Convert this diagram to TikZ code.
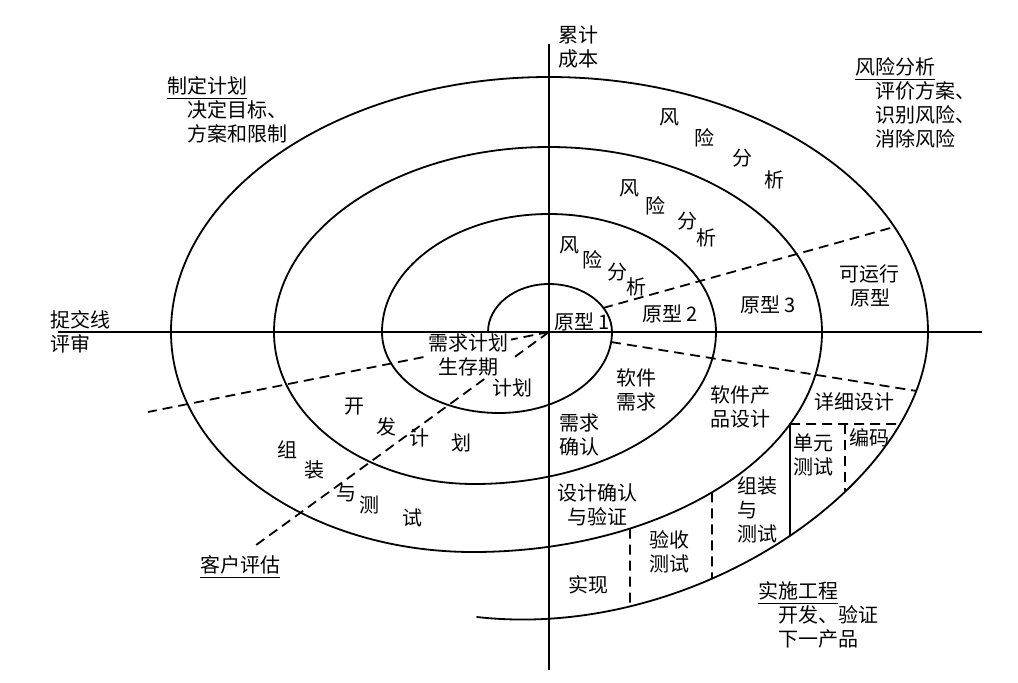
\documentclass[tikz,border=0pt]{standalone}
\usepackage{fontspec}
\setmainfont{Noto Sans CJK SC}
\usepackage{tikz}
\usetikzlibrary{intersections}

\begin{document}
\begin{tikzpicture}[x=0.5pt,y=0.5pt,
    spiral/.style={line width=0.9pt, line cap=round},
    cut/.style={line width=0.9pt, dash pattern=on 5pt off 3pt},
    lbl/.style={inner sep=0pt, font=\fontsize{10}{12}\selectfont, align=center},
    note/.style={lbl, anchor=west, align=left}]
    \useasboundingbox (-549,-350) rectangle (469,332);

    % dashed sector lines
    \draw[cut] (54,24) -- (345,105);
    \draw[cut] (0,0) -- (-401,-80);
    \draw[cut] (0,0) -- (-297,-216);

    % label lying over the dashes
    \node[lbl, fill=white, inner sep=1pt] (life) at (-80,-23) {需求计划\\生存期};

    % axes
    \draw[line width=0.9pt] (-491,0) -- (433,0);
    \draw[line width=0.9pt] (0,288) -- (0,-338);

    % spiral
    \draw[spiral] (-61,0)
        arc[start angle=180, end angle=90, x radius=61, y radius=48]
        arc[start angle=90, end angle=0, x radius=63, y radius=48]
        arc[start angle=0, end angle=-90, x radius=113, y radius=81]
        arc[start angle=-90, end angle=-180, x radius=117, y radius=81]
        arc[start angle=180, end angle=90, x radius=167, y radius=118]
        arc[start angle=90, end angle=0, x radius=167, y radius=118]
        arc[start angle=0, end angle=-90, x radius=242, y radius=152]
        arc[start angle=-90, end angle=-180, x radius=200, y radius=152]
        arc[start angle=180, end angle=90, x radius=275, y radius=185]
        arc[start angle=90, end angle=0, x radius=273, y radius=185]
        arc[start angle=0, end angle=-90, x radius=349, y radius=220]
        arc[start angle=-90, end angle=-180, x radius=302, y radius=220]
        arc[start angle=180, end angle=90, x radius=378, y radius=255]
        arc[start angle=90, end angle=0, x radius=379, y radius=255];
    \draw[spiral, name path=rim] (379,0) .. controls (379,-146) and (150,-310) .. (-72,-285);

    % lower right dashed line
    \path[name path=lowcut] (62,-10) -- (430,-69);
    \path[name intersections={of=rim and lowcut, by=e2}];
    \draw[cut] (62,-10) -- (e2);

    % boxes of the engineering quadrant
    \coordinate (m1) at (81,-196.5);
    \coordinate (m2) at (163,-160.3);
    \coordinate (m3) at (241,-92);
    \coordinate (m4) at (296,-92);
    \path[name path=v1] (81,-150) -- (81,-350);
    \path[name path=v2] (163,-150) -- (163,-350);
    \path[name path=v3] (241,-92) -- (241,-350);
    \path[name path=v4] (296,-92) -- (296,-350);
    \path[name path=h1] (241,-92) -- (440,-92);
    \path[name intersections={of=rim and v1, by=r1}];
    \path[name intersections={of=rim and v2, by=r2}];
    \path[name intersections={of=rim and v3, by=r3}];
    \path[name intersections={of=rim and v4, by=r4}];
    \path[name intersections={of=rim and h1, by=r5}];
    \draw[cut] (m1) -- (r1);
    \draw[cut] (m2) -- (r2);
    \draw[spiral] (m3) -- (r3);
    \draw[cut] (m3) -- (r5);
    \draw[cut] (m4) -- (r4);

    % quadrant notes
    \node[note] (plan) at (-382,222) {\underline{制定计划}\\\hspace*{1em}决定目标、\\\hspace*{1em}方案和限制};
    \node[note] (risk) at (306,229) {\underline{风险分析}\\\hspace*{1em}评价方案、\\\hspace*{1em}识别风险、\\\hspace*{1em}消除风险};
    \node[note] (build) at (209,-283) {\underline{实施工程}\\\hspace*{1em}开发、验证\\\hspace*{1em}下一产品};
    \node[note] (client) at (-349,-235) {\underline{客户评估}};
    \node[note] (submit) at (-499,0) {捉交线\\评审};
    \node[note] (cost) at (9,285) {累计\\成本};

    % risk analysis, three rounds
    \node[lbl] (riskA1) at (121,215) {风};
    \node[lbl] (riskA2) at (156,194) {险};
    \node[lbl] (riskA3) at (194,174) {分};
    \node[lbl] (riskA4) at (226,152) {析};
    \node[lbl] (riskB1) at (81,144) {风};
    \node[lbl] (riskB2) at (107,126) {险};
    \node[lbl] (riskB3) at (139,111) {分};
    \node[lbl] (riskB4) at (158,94) {析};
    \node[lbl] (riskC1) at (21,87) {风};
    \node[lbl] (riskC2) at (44,72) {险};
    \node[lbl] (riskC3) at (69,60) {分};
    \node[lbl] (riskC4) at (88,45) {析};

    % prototypes
    \node[lbl, anchor=west] (proto1) at (5,10) {原型 1};
    \node[lbl] (proto2) at (121,18) {原型 2};
    \node[lbl] (proto3) at (219,27) {原型 3};
    \node[lbl] (protoRun) at (321,46) {可运行\\原型};

    % lower right labels
    \node[lbl] (lifeplan) at (-36,-56) {计划};
    \node[lbl] (swreq) at (88,-58) {软件\\需求};
    \node[lbl] (reqok) at (31,-103) {需求\\确认};
    \node[lbl] (prod) at (192,-75) {软件产\\品设计};
    \node[lbl] (detail) at (305,-70) {详细设计};
    \node[lbl] (code) at (320,-106) {编码};
    \node[lbl] (unit) at (265,-123) {单元\\测试};
    \node[lbl, anchor=west, align=left] (integ) at (188,-178) {组装\\与\\测试};
    \node[lbl] (accept) at (121,-220) {验收\\测试};
    \node[lbl] (verify) at (49,-173) {设计确认\\与验证};
    \node[lbl] (impl) at (40,-253) {实现};

    % lower left band labels
    \node[lbl] (dev1) at (-194,-75) {开};
    \node[lbl] (dev2) at (-162,-95) {发};
    \node[lbl] (dev3) at (-129,-106) {计};
    \node[lbl] (dev4) at (-87,-111) {划};
    \node[lbl] (asm1) at (-261,-118) {组};
    \node[lbl] (asm2) at (-234,-138) {装};
    \node[lbl] (asm3) at (-202,-161) {与};
    \node[lbl] (asm4) at (-179,-173) {测};
    \node[lbl] (asm5) at (-136,-186) {试};
\end{tikzpicture}
\end{document}
